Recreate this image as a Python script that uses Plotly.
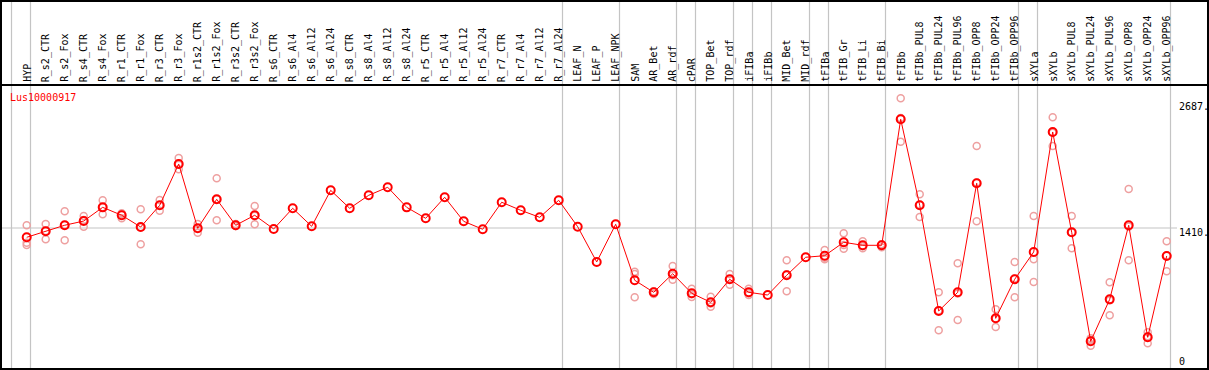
import plotly.graph_objects as go

categories = ["HYP", "R_s2_CTR", "R_s2_Fox", "R_s4_CTR", "R_s4_Fox", "R_r1_CTR", "R_r1_Fox",
              "R_r3_CTR", "R_r3_Fox", "R_r1s2_CTR", "R_r1s2_Fox", "R_r3s2_CTR", "R_r3s2_Fox",
              "R_s6_CTR", "R_s6_Al4", "R_s6_Al12", "R_s6_Al24", "R_s8_CTR", "R_s8_Al4",
              "R_s8_Al12", "R_s8_Al24", "R_r5_CTR", "R_r5_Al4", "R_r5_Al12", "R_r5_Al24",
              "R_r7_CTR", "R_r7_Al4", "R_r7_Al12", "R_r7_Al24", "LEAF_N", "LEAF_P", "LEAF_NPK",
              "SAM", "AR_Bet", "AR_rdf", "cPAR", "TOP_Bet", "TOP_rdf", "iFIBa", "iFIBb",
              "MID_Bet", "MID_rdf", "tFIBa", "tFIB_Gr", "tFIB_Li", "tFIB_Bi", "tFIBb",
              "tFIBb_PUL8", "tFIBb_PUL24", "tFIBb_PUL96", "tFIBb_OPP8", "tFIBb_OPP24",
              "tFIBb_OPP96", "sXYLa", "sXYLb", "sXYLb_PUL8", "sXYLb_PUL24", "sXYLb_PUL96",
              "sXYLb_OPP8", "sXYLb_OPP24", "sXYLb_OPP96"]

mean_values = [1315, 1376, 1438, 1481, 1621, 1540, 1420, 1642, 2064, 1407, 1703, 1438, 1540,
               1400, 1611, 1427, 1795, 1611, 1744, 1826, 1621, 1509, 1724, 1478, 1397,
               1673, 1591, 1519, 1693, 1423, 1063, 1448,
               876, 753, 943, 743, 651, 886, 753, 725, 927, 1111, 1127, 1264, 1233, 1233,
               2521, 1642, 562, 753, 1867, 487, 886,
               1165, 2391, 1366, 252, 681, 1438, 293, 1124]

N = None
rep1 = [1438, 1451, 1581, 1533, 1693, 1550, 1601, 1696, 2125, 1451, 1918, 1451, 1635,
        N, N, N, N, N, N, N, N, N, N, N, N, N, N, N, N, N, N, N,
        963, 736, 1022, 790, 708, 940, 790, N, 1080, N, 1185, 1356, 1274, 1213,
        2735, 1754, 753, 1049, 2248, 579, 1063,
        1533, 2541, 1533, 283, 855, 1808, 344, 1274]
rep2 = [1260, 1294, 1284, 1423, 1550, 1509, 1243, 1587, 2010, 1362, 1489, 1430, 1448,
        N, N, N, N, N, N, N, N, N, N, N, N, N, N, N, N, N, N, N,
        940, 761, 882, 705, 606, 831, 725, N, 763, N, 1090, 1198, 1203, 1243,
        2292, 1522, 365, 470, 1478, 398, 702,
        1090, 2248, 1203, 207, 518, 1080, 232, 968]
rep3 = [1236, 1379, 1441, 1492, 1621, 1560, 1417, 1642, 2057, 1407, 1703, 1430, 1536,
        N, N, N, N, N, N, N, N, N, N, N, N, N, N, N, N, N, N, N,
        702, 761, 927, 733, 639, 886, 743, N, 937, N, 1107, 1236, 1223, 1243,
        2534, 1648, 568, 740, 1874, 484, 893,
        858, 2384, 1363, 266, 671, 1424, 303, 1130]

# index of last category in each group (a grey separator is drawn after it)
group_ends = [-1, 0, 28, 31, 34, 35, 37, 38, 39, 41, 42, 45, 52, 53, 60]
scale_labels = ["2687.", "1410.", "0"]
scale_values = [2687, 1410, 0]
reference_value = 1410
gene_name = "Lus10000917"

W, H = 1209, 370
X0, DX = 26.7, 19.0           # pixel of first category, pixel spacing
Y0, DY = 366.0, 0.09788       # pixel of value 0, pixels per unit

def px(x):
    return x / W

def py(y):
    return 1 - y / H

xs = list(range(len(categories)))
fig = go.Figure()

rep_color = "#eea0a0"
for reps in (rep1, rep2, rep3):
    fig.add_trace(go.Scatter(
        x=xs, y=reps, mode="markers",
        marker=dict(symbol="circle-open", size=7, color=rep_color, line=dict(width=1.5, color=rep_color)),
        hoverinfo="skip", showlegend=False, cliponaxis=False))

fig.add_trace(go.Scatter(
    x=xs, y=mean_values, mode="lines+markers",
    line=dict(color="#ff0000", width=1),
    marker=dict(symbol="circle-open", size=8, color="#ff0000", line=dict(width=2, color="#ff0000")),
    hoverinfo="skip", showlegend=False, cliponaxis=False))

shapes = []
grey = "#c4c4c4"
for g in group_ends:
    xpix = X0 + DX * (g + 0.2)
    shapes.append(dict(type="line", xref="paper", yref="paper",
                       x0=px(xpix), x1=px(xpix), y0=0, y1=1,
                       line=dict(color=grey, width=1.2), layer="below"))
yref_pix = Y0 - DY * reference_value
shapes.append(dict(type="line", xref="paper", yref="paper",
                   x0=px(1), x1=px(1177), y0=py(yref_pix), y1=py(yref_pix),
                   line=dict(color=grey, width=1.2), layer="below"))
# frame and label separator
shapes.append(dict(type="rect", xref="paper", yref="paper",
                   x0=px(1), x1=px(1208), y0=py(369), y1=py(1),
                   line=dict(color="black", width=2)))
shapes.append(dict(type="line", xref="paper", yref="paper",
                   x0=px(1), x1=px(1208), y0=py(85), y1=py(85),
                   line=dict(color="black", width=2)))

font = "DejaVu Sans Mono"
annotations = []
for i, c in enumerate(categories):
    annotations.append(dict(x=i, xref="x", y=py(84), yref="paper", text=c,
                            textangle=-90, xanchor="center", yanchor="bottom",
                            showarrow=False, font=dict(family=font, size=10, color="black")))
shifts = [-3.7, -4.3, 4.3]
for lab, v, s in zip(scale_labels, scale_values, shifts):
    annotations.append(dict(x=px(1177), xref="paper", y=v, yref="y", yshift=s, text=lab,
                            xanchor="left", yanchor="middle", showarrow=False,
                            font=dict(family=font, size=10, color="black")))
annotations.append(dict(x=px(8), xref="paper", y=py(97), yref="paper", text=gene_name,
                        xanchor="left", yanchor="middle", showarrow=False,
                        font=dict(family=font, size=10, color="#ff0000")))

fig.update_layout(
    width=W, height=H, margin=dict(l=0, r=0, t=0, b=0),
    paper_bgcolor="white", plot_bgcolor="white",
    xaxis=dict(range=[-X0 / DX, (W - X0) / DX], visible=False, fixedrange=True),
    yaxis=dict(range=[-(H - Y0) / DY, Y0 / DY], visible=False, fixedrange=True),
    shapes=shapes, annotations=annotations, hovermode=False,
)

fig.write_html("out.html", config={"displayModeBar": False},
               post_script="document.body.style.margin='0px';document.body.style.overflow='hidden';")
